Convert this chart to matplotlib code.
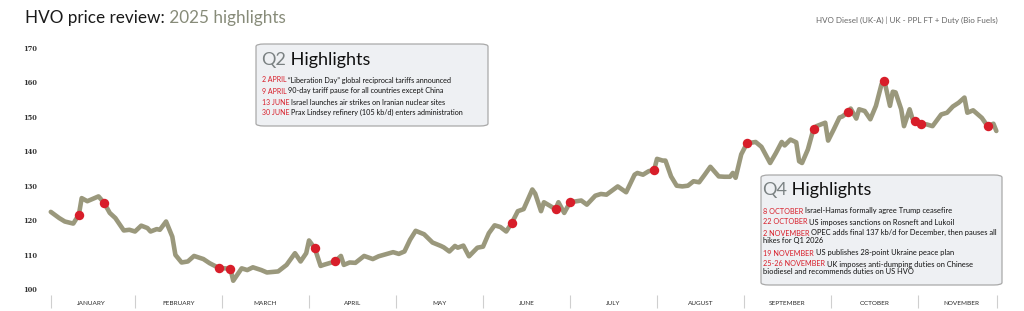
import calendar
import matplotlib
matplotlib.use("Agg")
import matplotlib.pyplot as plt
from matplotlib.patches import FancyBboxPatch

# HVO Diesel (UK-A) price, 2025 (dates as MM-DD)
dates = [
    "01-02", "01-05", "01-07", "01-10", "01-12", "01-13", "01-15", "01-19", "01-21", "01-23",
    "01-25", "01-28", "01-30", "02-01", "02-03", "02-05", "02-06", "02-08", "02-09", "02-11",
    "02-13", "02-14", "02-16", "02-18", "02-20", "02-23", "02-25", "02-28", "03-04", "03-05",
    "03-08", "03-10", "03-12", "03-15", "03-17", "03-21", "03-24", "03-27", "03-29", "03-31",
    "04-01", "04-03", "04-05", "04-06", "04-10", "04-12", "04-13", "04-15", "04-17", "04-20",
    "04-23", "04-25", "04-28", "04-30", "05-02", "05-04", "05-06", "05-08", "05-11", "05-14",
    "05-17", "05-18", "05-20", "05-22", "05-23", "05-25", "05-27", "05-30", "06-01", "06-03",
    "06-05", "06-07", "06-09", "06-11", "06-13", "06-15", "06-18", "06-19", "06-21", "06-22",
    "06-26", "06-27", "06-29", "07-01", "07-05", "07-07", "07-10", "07-12", "07-14", "07-18",
    "07-21", "07-24", "07-25", "07-27", "07-29", "07-31", "08-01", "08-03", "08-04", "08-06",
    "08-08", "08-10", "08-12", "08-14", "08-16", "08-18", "08-20", "08-23", "08-25", "08-27",
    "08-28", "08-29", "08-31", "09-02", "09-05", "09-07", "09-10", "09-12", "09-14", "09-15",
    "09-17", "09-19", "09-20", "09-21", "09-23", "09-25", "09-26", "09-29", "09-30", "10-02",
    "10-04", "10-05", "10-07", "10-08", "10-10", "10-11", "10-13", "10-15", "10-17", "10-19",
    "10-20", "10-22", "10-23", "10-24", "10-26", "10-27", "10-29", "10-30", "10-31", "11-02",
    "11-04", "11-06", "11-09", "11-11", "11-13", "11-15", "11-17", "11-18", "11-20", "11-23",
    "11-25", "11-27", "11-28",
]
prices = [
    122.4, 120.6, 119.6, 119.0, 121.6, 126.4, 125.5, 126.9, 125.0, 122.1,
    120.6, 117.0, 117.2, 116.7, 118.4, 117.7, 116.7, 117.4, 117.2, 119.6,
    115.2, 109.9, 107.7, 108.0, 109.6, 108.7, 107.5, 106.1, 105.9, 102.4,
    106.0, 105.5, 106.3, 105.5, 104.8, 105.1, 107.0, 110.4, 108.0, 110.4,
    114.1, 111.8, 106.7, 107.0, 108.0, 109.6, 107.0, 107.7, 107.6, 109.6,
    108.7, 109.5, 110.2, 110.7, 110.2, 110.9, 114.3, 116.9, 115.9, 113.5,
    112.5, 112.1, 110.9, 112.5, 112.0, 112.6, 109.5, 112.0, 112.3, 116.2,
    118.5, 118.0, 116.7, 119.3, 122.6, 123.2, 128.9, 127.7, 122.6, 125.2,
    123.2, 125.2, 122.1, 125.2, 125.7, 124.5, 127.1, 127.6, 127.4, 129.8,
    128.1, 133.2, 133.7, 133.2, 134.2, 134.7, 137.8, 137.3, 137.3, 132.7,
    130.0, 129.8, 130.0, 131.3, 131.0, 133.2, 135.5, 132.7, 132.6, 132.6,
    133.7, 132.3, 139.1, 142.3, 142.7, 141.3, 136.6, 139.5, 142.7, 141.7,
    143.4, 142.6, 137.1, 136.6, 140.5, 146.6, 147.3, 148.3, 143.1, 146.4,
    149.8, 150.1, 151.3, 152.4, 149.5, 152.2, 151.7, 149.3, 153.2, 159.5,
    160.5, 153.2, 157.3, 157.1, 152.2, 147.3, 152.2, 149.5, 148.8, 148.0,
    147.8, 147.3, 150.7, 151.2, 153.0, 154.1, 155.6, 151.2, 151.9, 149.7,
    147.3, 148.0, 145.9,
]
# dates marked with red dots
event_dates = [
    "01-12", "01-21", "02-28", "03-04", "04-03", "04-10", "06-11", "06-26", "07-01",
    "07-31", "09-02", "09-25", "10-07", "10-20", "10-31", "11-02", "11-25",
]

months = ["JANUARY", "FEBRUARY", "MARCH", "APRIL", "MAY", "JUNE", "JULY",
          "AUGUST", "SEPTEMBER", "OCTOBER", "NOVEMBER"]
y_ticks = [100, 110, 120, 130, 140, 150, 160, 170]

q2_events = [
    ("2 APRIL", "\u201cLiberation Day\u201d global reciprocal tariffs announced"),
    ("9 APRIL", "90-day tariff pause for all countries except China"),
    ("13 JUNE", "Israel launches air strikes on Iranian nuclear sites"),
    ("30 JUNE", "Prax Lindsey refinery (105 kb/d) enters administration"),
]
q4_events = [
    ("8 OCTOBER", "Israel-Hamas formally agree Trump ceasefire", ""),
    ("22 OCTOBER", "US imposes sanctions on Rosneft and Lukoil", ""),
    ("2 NOVEMBER", "OPEC adds final 137 kb/d for December, then pauses all",
     "hikes for Q1 2026"),
    ("19 NOVEMBER", "US publishes 28-point Ukraine peace plan", ""),
    ("25-26 NOVEMBER", "UK imposes anti-dumping duties on Chinese",
     "biodiesel and recommends duties on US HVO"),
]

LINE = "#9a987c"
RED = "#d81e2a"
FONT = "Lato"
W, H = 1024, 311


def month_pos(md):
    m, d = int(md[:2]), int(md[3:])
    return m - 1 + (d - 1) / calendar.monthrange(2025, m)[1]


def fx(x):
    return x / W


def fy(y):
    return 1 - y / H


x = [month_pos(d) for d in dates]
lookup = dict(zip(dates, prices))
ex = [month_pos(d) for d in event_dates]
ey = [lookup[d] for d in event_dates]

fig = plt.figure(figsize=(W / 100, H / 100), dpi=100)
ax = fig.add_axes([fx(40), 0, fx(1010) - fx(40), 1])
ax.set_xlim(-0.092, 11.057)
ax.set_ylim(93.61, 183.94)
for s in ax.spines.values():
    s.set_visible(False)
ax.set_xticks([])
ax.set_yticks(y_ticks)
ax.set_yticklabels([str(v) for v in y_ticks], family="DejaVu Serif",
                   fontsize=4.8, fontweight="bold", color="#333333", ha="left")
ax.tick_params(axis="y", length=0, pad=12)

ax.plot(x, prices, color=LINE, lw=3.3, solid_joinstyle="round",
        solid_capstyle="round", zorder=3)
ax.plot(ex, ey, "o", color=RED, ms=6.8, mec="none", zorder=4)

# month labels and separators
seps = [x[0]] + list(range(1, 11)) + [x[-1] + 0.01]
ax.vlines(seps, 94.5, 98.3, color="#cfcfcf", lw=0.8, clip_on=False)
for i, name in enumerate(months):
    ax.text(i + 0.5, 95.85, name, ha="center", va="center", fontsize=4.6,
            family=FONT, color="#2a2a2a")

FT = fig.transFigure

# title
t1 = ax.text(fx(25), fy(18), "HVO price review:", transform=FT, fontsize=12.3,
             family=FONT, color="#1a1a1a", va="center", ha="left")
ax.annotate(" 2025 highlights", xy=(1, 0), xycoords=t1, va="bottom", ha="left",
            fontsize=12.3, family=FONT, color="#878b79", annotation_clip=False)
ax.text(fx(998), fy(20), "HVO Diesel (UK-A) | UK - PPL FT + Duty (Bio Fuels)",
        transform=FT, fontsize=5.8, family=FONT, color="#666666",
        ha="right", va="center")


def box(x0, y0, x1, y1):
    p = FancyBboxPatch((fx(x0), fy(y1)), fx(x1) - fx(x0), fy(y0) - fy(y1),
                       boxstyle="round,pad=0,rounding_size=0.008",
                       transform=FT, facecolor="#eef0f3", clip_on=False,
                       edgecolor="#a9a9a9", lw=0.9, zorder=5)
    ax.add_patch(p)


def heading(xp, yp, q):
    t = ax.text(fx(xp), fy(yp), q, transform=FT, fontsize=13, family=FONT,
                color="#7a8182", va="center", ha="left", zorder=6)
    ax.annotate(" Highlights", xy=(1, 0), xycoords=t, va="bottom", ha="left",
                fontsize=13, family=FONT, color="#111111",
                annotation_clip=False, zorder=6)


def event_line(xp, yp, red, black, size=5.2):
    t = ax.text(fx(xp), fy(yp), red, transform=FT, fontsize=size - 0.2,
                family=FONT, color=RED, va="center", ha="left", zorder=6)
    ax.annotate(black, xy=(1, 0), xycoords=t, xytext=(1.3, 0),
                textcoords="offset points", va="bottom", ha="left",
                fontsize=size, family=FONT, color="#111111",
                annotation_clip=False, zorder=6)


box(256, 44, 488, 126)
heading(261, 60, "Q2")
for (red, black), yp in zip(q2_events, [80, 91, 102, 113]):
    event_line(262, yp, red, black)

box(761, 175, 1002, 285)
heading(762, 190, "Q4")
ys = [211, 222, 233, 253, 264]
for (red, black, cont), yp in zip(q4_events, ys):
    event_line(763, yp, red, black, size=5.4)
    if cont:
        ax.text(fx(763), fy(yp + 7.5), cont, transform=FT, fontsize=5.4,
                family=FONT, color="#111111", va="center", ha="left", zorder=6)

fig.savefig("out.png", dpi=100)
